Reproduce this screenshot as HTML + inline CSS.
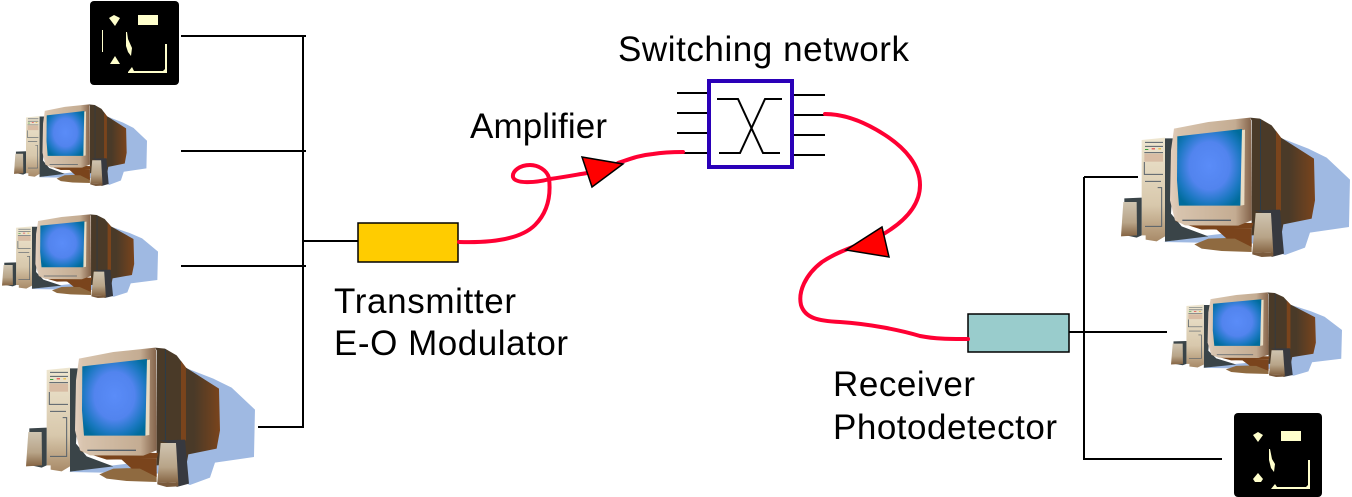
<!DOCTYPE html>
<html>
<head>
<meta charset="utf-8">
<style>
html,body{margin:0;padding:0;background:#fff}
svg{display:block}
text{font-family:"Liberation Sans",sans-serif;font-size:35px;fill:#000}
</style>
</head>
<body>
<svg xmlns="http://www.w3.org/2000/svg" width="1352" height="497" viewBox="0 0 1352 497">
<defs>
<radialGradient id="scr" cx="0.5" cy="0.48" r="0.62"><stop offset="0" stop-color="#5a8cf8"/><stop offset="0.5" stop-color="#5284ee"/><stop offset="0.8" stop-color="#1a78c0"/><stop offset="1" stop-color="#006c9c"/></radialGradient>
<linearGradient id="bez" x1="0" y1="0" x2="1" y2="0"><stop offset="0" stop-color="#e4d0c0"/><stop offset="0.1" stop-color="#d8c4ae"/><stop offset="0.8" stop-color="#c4ac92"/><stop offset="1" stop-color="#84634a"/></linearGradient>
<linearGradient id="twr" x1="0" y1="0" x2="0" y2="1"><stop offset="0" stop-color="#eee6d0"/><stop offset="0.65" stop-color="#d8c8ac"/><stop offset="1" stop-color="#a88a68"/></linearGradient>
<linearGradient id="spk" x1="0" y1="0" x2="0" y2="1"><stop offset="0" stop-color="#cfc4b0"/><stop offset="0.6" stop-color="#b8a488"/><stop offset="1" stop-color="#856443"/></linearGradient>
<linearGradient id="bk" x1="0" y1="0" x2="1" y2="0"><stop offset="0" stop-color="#4a3a28"/><stop offset="0.6" stop-color="#4a3a28"/><stop offset="1" stop-color="#7a441c"/></linearGradient>
<g id="pc">
  <polygon fill="#9fb9e2" points="555,112 640,145 695,172 765,238 762,380 645,397 630,442 570,464 480,430 205,425 340,405 560,380"/>
  <polygon fill="#3a4448" points="210,114 240,114 228,340 260,378 340,408 210,424"/>
  <polygon fill="url(#twr)" points="140,119 210,112 210,408 185,423 152,418 152,405 140,405"/>
  <g fill="none" stroke="#56606a" stroke-width="3">
    <path d="M150,126H204M150,138H204M148,157H204M148,185V222H204M150,243H198"/>
    <path d="M188,262H200V378H150"/>
  </g>
  <rect x="148" y="160" width="56" height="24" fill="#d8bca4"/>
  <rect x="150" y="146" width="10" height="3" fill="#3aa03a"/><rect x="170" y="144" width="10" height="3" fill="#e03030"/><rect x="190" y="144" width="8" height="3" fill="#e8b020"/>
  <polygon fill="#8f6a40" points="298,432 340,415 430,412 470,425 470,455 380,452 320,445"/>
  <polygon fill="#7a441c" points="320,385 470,385 470,440 420,415 395,415 365,388"/>
  <polygon fill="url(#bk)" points="465,52 495,55 530,75 558,112 657,175 660,300 650,355 565,372 560,400 470,405 470,60"/>
  <polygon fill="#7a441c" points="543,92 558,112 558,330 543,330"/>
  <rect x="495" y="58" width="3" height="272" fill="#2c3c48"/>
  <polygon fill="#7a441c" points="240,362 475,368 470,385 320,388"/>
  <polygon fill="url(#bez)" points="237,85 340,65 465,52 468,60 470,360 430,376 270,375 240,360 225,300 228,150"/>
  <polygon fill="#e8dcc4" points="438,90 450,88 448,314 436,316"/>
  <polygon fill="url(#scr)" points="247,108 441,86 436,316 252,316 246,240"/>
  <path d="M262,360H408" stroke="#56606a" stroke-width="4"/>
  <polygon fill="#3a4448" points="88,294 140,292 140,405 125,412 88,404"/>
  <polygon fill="url(#spk)" points="85,305 125,305 126,405 78,408"/>
  <polygon fill="#37393f" points="478,330 555,328 567,460 530,470 510,340"/>
  <polygon fill="url(#spk)" points="482,338 528,338 535,458 472,455"/>
  <polygon fill="#7a5a3c" points="472,455 535,458 535,468 500,470 472,462"/>
</g>
</defs>

<!-- computers -->
<use href="#pc" transform="translate(26,347) scale(0.3333) translate(-78,-50)"/>
<use href="#pc" transform="translate(14,104) scale(0.1936,0.1952) translate(-78,-50)"/>
<use href="#pc" transform="translate(2,214) scale(0.2271,0.2) translate(-78,-50)"/>
<use href="#pc" transform="translate(1121,117) scale(0.3333) translate(-78,-50)"/>
<use href="#pc" transform="translate(1171,292) scale(0.2489,0.2024) translate(-78,-50)"/>

<!-- black icon top left -->
<rect x="90" y="1" width="89" height="84" rx="4" fill="#000"/>
<g fill="#ffffcc">
  <rect x="138" y="15" width="20" height="10"/>
  <polygon points="109,18 114,15 120,18 115,26"/>
  <polygon points="110,64 115,56 120,64"/>
  <rect x="102" y="30" width="1" height="22"/>
  <polygon points="126,32 127,32 128,39 132,48 131,56 128,52 126,46"/>
  <polygon points="128,72 132,67 134,71 163,71 165,69 165,44 167,44 167,73 128,73"/>
</g>
<!-- black icon bottom right -->
<rect x="1234" y="413" width="88" height="84" rx="4" fill="#000"/>
<g fill="#ffffcc">
  <rect x="1281" y="431" width="20" height="10"/>
  <polygon points="1253,435 1258,432 1263,435 1258,442"/>
  <polygon points="1253,479 1258,473 1263,479 1261,482 1255,482"/>
  <polygon points="1269,449 1270,449 1272,459 1275,464 1274,472 1271,468 1269,460"/>
  <polygon points="1271,489 1275,484 1277,487 1306,487 1308,485 1308,460 1310,460 1310,489"/>
</g>

<!-- black connectors -->
<g stroke="#000" stroke-width="2" fill="none">
  <path d="M181,36H306M181,151H306M181,266H306M303,36V428M303,241H358M258,427H304"/>
  <path d="M1084,177V460M1084,177H1138M1069,332H1167M1084,459H1222"/>
  <path d="M677,93H708M677,113H708M677,133H708M677,153H708M793,95H825M793,115H825M793,135H825M793,155H825"/>
  <path d="M717,99H738L763,153H780M719,153H740L765,99H782"/>
</g>
<rect x="709" y="81" width="83" height="86" fill="none" stroke="#2a00b8" stroke-width="4"/>

<!-- boxes -->
<rect x="358" y="223" width="100" height="39" fill="#ffcc00" stroke="#000" stroke-width="1.5"/>
<rect x="968" y="314" width="101" height="38" fill="#99cccc" stroke="#000" stroke-width="1.5"/>

<!-- red fibers -->
<g fill="none" stroke="#ff0033" stroke-width="4" stroke-linecap="round">
  <path d="M459,242C490,243 520,240 535,225C548,212 551,195 549,178C547,170 538,165 530,165C520,165 512,171 513,177C515,184 535,183 550,179C565,177 575,175 587,173"/>
  <path d="M618,163C630,159 640,155 653,154C665,152 675,152 683,152"/>
  <path d="M825,114C845,114 865,122 885,135C905,148 920,165 920,185C920,205 905,222 880,236C860,245 840,250 822,262C805,275 798,292 801,305C805,318 818,321 840,322C870,324 900,330 920,336C935,339 950,339 968,339"/>
</g>
<polygon points="582,157 623,164 592,187" fill="#ff0000" stroke="#000" stroke-width="1.5"/>
<polygon points="846,250 882,227 889,257" fill="#ff0000" stroke="#000" stroke-width="1.5"/>

<!-- labels -->
<text x="618" y="61" textLength="291" lengthAdjust="spacing">Switching network</text>
<text x="470" y="138" textLength="137" lengthAdjust="spacing">Amplifier</text>
<text x="334" y="313" textLength="182" lengthAdjust="spacing">Transmitter</text>
<text x="334" y="355" textLength="234" lengthAdjust="spacing">E-O Modulator</text>
<text x="833" y="396" textLength="142" lengthAdjust="spacing">Receiver</text>
<text x="833" y="439" textLength="224" lengthAdjust="spacing">Photodetector</text>
</svg>
</body>
</html>
